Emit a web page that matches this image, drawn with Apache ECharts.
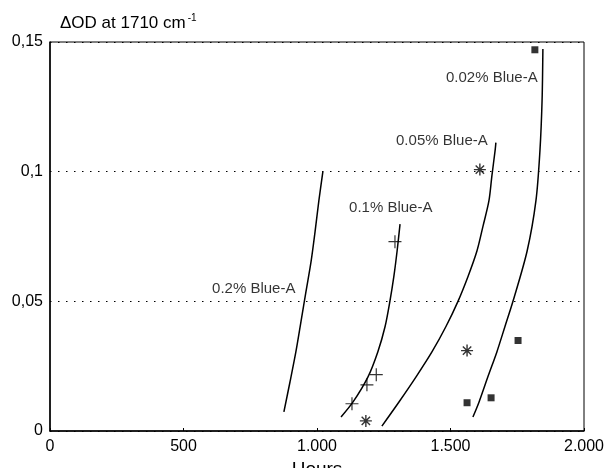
<!DOCTYPE html>
<html>
<head>
<meta charset="utf-8">
<script src="https://cdn.jsdelivr.net/npm/echarts@6/dist/echarts.min.js"></script>
<style>
  html, body { margin: 0; padding: 0; background: #fff; }
  #chart { width: 608px; height: 468px; }
</style>
</head>
<body>
<div id="chart"></div>
<script>
// measured points, [hours, delta OD]
const pts02 = [[914, 0.028], [970, 0.068], [1004, 0.088]];
const pts01 = [[1131, 0.0105], [1187, 0.0178], [1222, 0.0217], [1292, 0.073]];
const pts005 = [[1183, 0.0039], [1562, 0.031], [1610, 0.1008]];
const pts002 = [[1562, 0.0109], [1652, 0.0128], [1753, 0.0349], [1816, 0.147]];

// fitted curves
const curve02 = [[876, 0.0074], [899, 0.019], [921, 0.0306], [940, 0.0422], [959, 0.0539],
  [978, 0.0655], [993, 0.0771], [1007, 0.0888], [1022, 0.1]];
const curve01 = [[1090, 0.0054], [1135, 0.0112], [1191, 0.0209], [1228, 0.0306], [1255, 0.0403],
  [1273, 0.05], [1288, 0.0597], [1300, 0.0694], [1311, 0.0798]];
const curve005 = [[1243, 0.0019], [1307, 0.0112], [1371, 0.0209], [1431, 0.0306], [1483, 0.0403],
  [1528, 0.05], [1566, 0.0597], [1599, 0.0694], [1622, 0.0791], [1644, 0.0888], [1655, 0.0984],
  [1667, 0.1081], [1670, 0.1112]];
const curve002 = [[1584, 0.0054], [1607, 0.0112], [1640, 0.0209], [1674, 0.0306], [1704, 0.0403],
  [1734, 0.05], [1787, 0.0694], [1820, 0.0888], [1835, 0.1081], [1843, 0.1275], [1846, 0.1473]];

const curveNames = ['0.2% Blue-A', '0.1% Blue-A', '0.05% Blue-A', '0.02% Blue-A'];
const nameAnchors = [[607, 0.0547], [1120, 0.086], [1296, 0.112], [1483, 0.136]];

const xTicks = [0, 500, 1000, 1500, 2000];
const yTicks = [0, 0.05, 0.1, 0.15];

const FONT = 'Liberation Sans, Arial, sans-serif';

const plusPath = 'path://M0,6L12,6M6,0L6,12';
const starPath = 'path://M0,6L12,6M6,0L6,12M1.8,1.8L10.2,10.2M10.2,1.8L1.8,10.2';

const chart = echarts.init(document.getElementById('chart'));

function curveSeries(data) {
  return {
    type: 'line',
    data: data,
    smooth: 0.3,
    showSymbol: false,
    silent: true,
    lineStyle: { color: '#000', width: 1.5 },
  };
}

function pointSeries(data, symbol, size, filled, stroke) {
  return {
    type: 'scatter',
    data: data,
    symbol: symbol,
    symbolSize: size,
    silent: true,
    itemStyle: {
      color: filled ? '#000' : 'none',
      borderColor: '#000',
      borderWidth: filled ? 0 : stroke,
    },
  };
}

const option = {
  animation: false,
  backgroundColor: '#fff',
  title: {
    text: '{a|\u0394OD at 1710 cm}{s|-1}',
    left: 55,
    top: 8,
    textStyle: {
      fontWeight: 'normal',
      rich: {
        a: { fontFamily: FONT, fontSize: 17, fontWeight: 'normal', color: '#000' },
        s: { fontFamily: FONT, fontSize: 10, fontWeight: 'normal', color: '#000', padding: [0, 0, 10, 2] },
      },
    },
  },
  grid: {
    left: 50,
    right: 24,
    top: 42,
    bottom: 37,
    containLabel: false,
    outerBoundsMode: 'none',
    show: true,
    borderColor: '#000',
    borderWidth: 1,
  },
  xAxis: {
    type: 'value',
    min: xTicks[0],
    max: xTicks[xTicks.length - 1],
    interval: 500,
    name: 'Hours',
    nameLocation: 'middle',
    nameGap: 18,
    nameTextStyle: { fontFamily: FONT, fontSize: 19, color: '#000' },
    axisLine: { lineStyle: { color: '#000', width: 1.5 } },
    axisTick: { show: true, inside: true, length: 3, lineStyle: { color: '#000' } },
    axisLabel: {
      fontFamily: FONT,
      fontSize: 16,
      color: '#000',
      margin: 8,
      formatter: (v) => String(v).replace(/\B(?=(\d{3})+(?!\d))/g, '.'),
    },
    splitLine: { show: false },
  },
  yAxis: {
    type: 'value',
    min: yTicks[0],
    max: yTicks[yTicks.length - 1],
    interval: 0.05,
    axisLine: { show: true, lineStyle: { color: '#000', width: 1.5 } },
    axisTick: { show: false },
    axisLabel: {
      fontFamily: FONT,
      fontSize: 16,
      color: '#000',
      margin: 7,
      formatter: (v) => String(+v.toFixed(2)).replace('.', ','),
    },
    splitLine: {
      show: true,
      lineStyle: { color: '#000', width: 1.2, type: [1.5, 6.5] },
    },
  },
  series: [
    curveSeries(curve02),
    curveSeries(curve01),
    curveSeries(curve005),
    curveSeries(curve002),
    pointSeries(pts02, 'emptyCircle', 4, false, 1),
    pointSeries(pts01, plusPath, 13, false, 1.2),
    pointSeries(pts005, starPath, 12, false, 1.4),
    pointSeries(pts002, 'rect', 7, true, 0),
    {
      type: 'scatter',
      symbolSize: 0,
      silent: true,
      data: curveNames.map((n, i) => ({ name: n, value: nameAnchors[i] })),
      label: {
        show: true,
        position: 'right',
        distance: 0,
        formatter: (p) => p.name,
        fontFamily: FONT,
        fontSize: 15,
        color: '#000',
      },
    },
  ],
};

chart.setOption(option);
</script>
</body>
</html>
